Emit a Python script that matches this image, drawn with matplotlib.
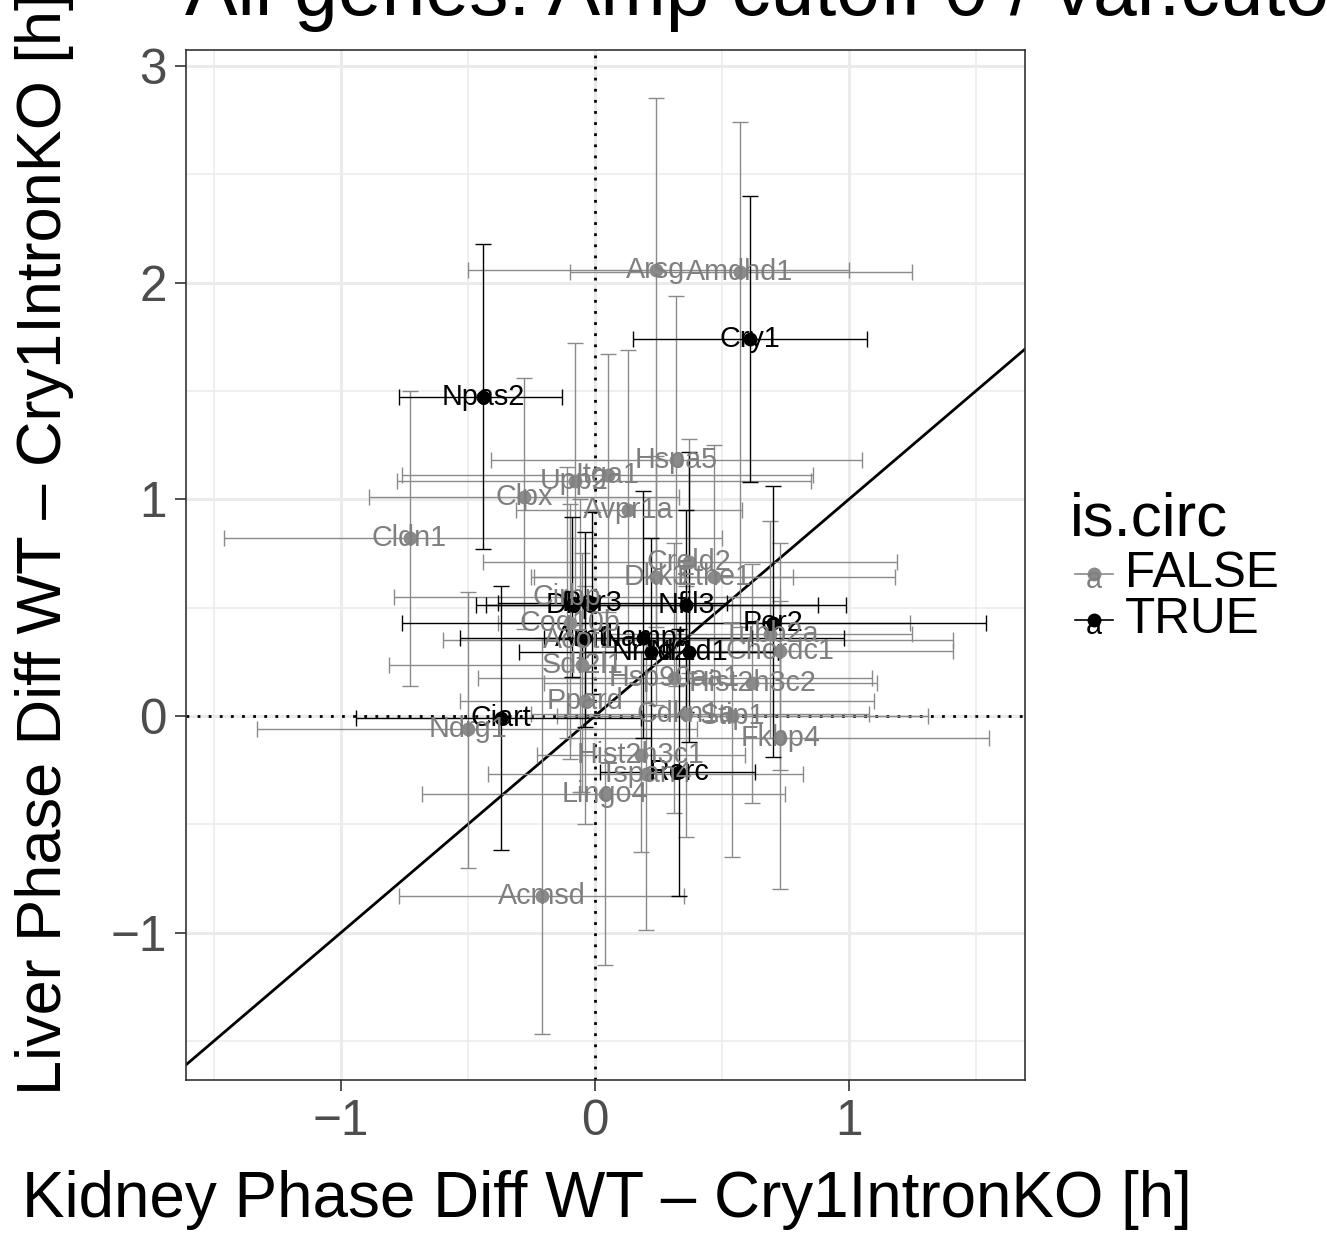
import numpy as np
import matplotlib
matplotlib.use("Agg")
import matplotlib.pyplot as plt
from matplotlib.lines import Line2D

plt.rcParams['font.family'] = ['Liberation Sans', 'DejaVu Sans']

# kidney / liver phase differences (h) with their confidence ranges
genes = ['Npas2', 'Cry1', 'Ciart', 'Per2', 'Rorc', 'Nfil3', 'Dbp', 'Per3',
         'Arntl', 'Nampt', 'Nr1d2', 'Nr1d1',
         'Arsg', 'Amdhd1', 'Hspa5', 'Itga1', 'Upp2', 'Clpx', 'Avpr1a', 'Cldn1',
         'Creld2', 'Dkk3', 'Ethe1', 'Cirbp', 'Coq10b', 'Acot1', 'Tubb2a',
         'Chordc1', 'Sdf2l1', 'Hsp90aa1', 'Hist2h3c2', 'Ppard', 'Cdkn1a',
         'Stip1', 'Fkbp4', 'Hist2h3c1', 'Tspan4', 'Lingo4', 'Acmsd', 'Ndrg1']
is_circ = [True] * 12 + [False] * 28
kidney = [-0.44, 0.61, -0.37, 0.70, 0.33, 0.36, -0.09, -0.01,
          -0.04, 0.19, 0.22, 0.37,
          0.24, 0.57, 0.32, 0.05, -0.08, -0.28, 0.13, -0.73,
          0.37, 0.24, 0.47, -0.11, -0.10, -0.06, 0.69,
          0.73, -0.05, 0.31, 0.62, -0.04, 0.36,
          0.54, 0.73, 0.18, 0.20, 0.04, -0.21, -0.50]
liver = [1.47, 1.74, -0.01, 0.43, -0.26, 0.51, 0.51, 0.52,
         0.36, 0.36, 0.295, 0.295,
         2.06, 2.05, 1.18, 1.11, 1.085, 1.01, 0.95, 0.82,
         0.71, 0.64, 0.64, 0.55, 0.43, 0.35, 0.38,
         0.30, 0.235, 0.175, 0.15, 0.07, 0.01,
         0.00, -0.10, -0.18, -0.27, -0.36, -0.83, -0.06]
kidney_lo = [-0.77, 0.15, -0.94, -0.76, 0.02, -0.47, -0.43, -0.38,
             -0.53, -0.20, -0.30, -0.05,
             -0.50, -0.10, -0.41, -0.76, -0.78, -0.89, -0.31, -1.46,
             -0.44, -0.25, -0.24, -0.79, -0.38, -0.60, 0.05,
             0.20, -0.81, -0.46, -0.20, -0.53, -0.25,
             -0.15, -0.10, -0.23, -0.42, -0.68, -0.77, -1.33]
kidney_hi = [-0.13, 1.07, 0.18, 1.54, 0.63, 0.99, 0.88, 0.52,
             0.98, 0.62, 0.72, 0.72,
             1.00, 1.25, 1.05, 0.86, 0.85, 0.33, 0.58, 0.50,
             1.19, 0.78, 1.18, 0.73, 1.24, 1.41, 1.25,
             1.41, 0.73, 1.09, 1.11, 1.10, 1.08,
             1.31, 1.55, 0.59, 0.82, 0.75, 0.35, 0.40]
liver_lo = [0.77, 1.08, -0.62, -0.19, -0.83, 0.02, 0.18, 0.10,
            -0.05, -0.10, -0.25, -0.12,
            0.41, 0.41, 0.14, 0.48, 0.42, 0.40, 0.30, 0.14,
            0.20, 0.05, 0.00, -0.10, -0.20, -0.35, -0.10,
            -0.25, -0.35, -0.45, -0.40, -0.50, -0.56,
            -0.65, -0.80, -0.63, -0.99, -1.15, -1.47, -0.70]
liver_hi = [2.18, 2.40, 0.60, 1.06, 0.40, 0.95, 0.92, 0.94,
            0.85, 1.04, 0.82, 1.22,
            2.85, 2.74, 1.94, 1.67, 1.72, 1.56, 1.69, 1.50,
            1.28, 1.20, 1.25, 1.15, 0.98, 1.00, 0.90,
            0.80, 0.75, 0.80, 0.70, 0.60, 0.60,
            0.55, 0.53, 0.30, 0.35, 0.40, 0.36, 0.57]

title = 'All genes: Amp cutoff 0 / var.cutoff 0.5'
colors = {False: '#8a8a8a', True: 'black'}

W, H = 1327, 1236
fig = plt.figure(figsize=(W / 100, H / 100), dpi=100)
ax = fig.add_axes([186 / W, 1 - 1080 / H, (1025 - 186) / W, (1080 - 50) / H])

base = 44.6
kid = np.array(kidney)
liv = np.array(liver)
circ = np.array(is_circ)

for flag in [False, True]:
    m = circ == flag
    xe = [kid[m] - np.array(kidney_lo)[m], np.array(kidney_hi)[m] - kid[m]]
    ye = [liv[m] - np.array(liver_lo)[m], np.array(liver_hi)[m] - liv[m]]
    ax.errorbar(kid[m], liv[m], xerr=xe, yerr=ye, fmt='none',
                ecolor=colors[flag], elinewidth=1.0, capsize=6,
                capthick=1.0, zorder=3)
for flag in [False, True]:
    m = circ == flag
    ax.plot(kid[m], liv[m], 'o', color=colors[flag], markersize=10,
            markeredgewidth=0, zorder=4)
for g, x, y, c in zip(genes, kidney, liver, is_circ):
    ax.text(x, y, g, color=('#7f7f7f' if not c else 'black'), fontsize=20.7,
            ha='center', va='center', zorder=5)

ax.axline((0, 0), slope=1, color='black', lw=2, zorder=2)
ax.axhline(0, color='black', lw=2, ls=(0, (1, 3)), zorder=2)
ax.axvline(0, color='black', lw=2, ls=(0, (1, 3)), zorder=2)

ax.set_xlim(-1.61, 1.693)
ax.set_ylim(-1.68, 3.073)
ax.set_xticks([-1, 0, 1])
ax.set_yticks([-1, 0, 1, 2, 3])
ax.set_xticks([-1.5, -0.5, 0.5, 1.5], minor=True)
ax.set_yticks([-1.5, -0.5, 0.5, 1.5, 2.5], minor=True)
ax.grid(True, which='major', color='#ebebeb', lw=2.2, zorder=0)
ax.grid(True, which='minor', color='#ebebeb', lw=1.1, zorder=0)
ax.set_axisbelow(True)
ax.tick_params(which='major', length=8, width=1.2, color='#333333',
               labelsize=base * 0.8, labelcolor='#4d4d4d', pad=6)
ax.tick_params(which='minor', length=0)
for s in ax.spines.values():
    s.set_color('#333333')
    s.set_linewidth(1.2)

fig.text(607 / W, 1 - 1200 / H, 'Kidney Phase Diff WT – Cry1IntronKO [h]',
         fontsize=base * 1.03, ha='center', va='center')
fig.text(45 / W, 1 - 544 / H, 'Liver Phase Diff WT – Cry1IntronKO [h]',
         fontsize=base * 1.02, ha='center', va='center', rotation=90)
fig.text(185 / W, 1 - 15 / H, title, fontsize=base * 1.27, ha='left',
         va='baseline')

# legend
fig.text(1070 / W, 1 - 520 / H, 'is.circ', fontsize=base, ha='left',
         va='center')
for i, flag in enumerate([False, True]):
    py = 574 + i * 46
    fy = 1 - py / H
    fig.add_artist(Line2D([1075 / W, 1113 / W], [fy, fy], color=colors[flag],
                          lw=1.2, transform=fig.transFigure))
    fig.add_artist(Line2D([1094 / W], [fy], marker='o', markersize=10,
                          markeredgewidth=0, color=colors[flag],
                          transform=fig.transFigure))
    fig.text(1094 / W, 1 - (py + 6) / H, 'a', fontsize=20.7,
             color=('#7f7f7f' if not flag else 'black'), ha='center',
             va='center')
    fig.text(1125 / W, fy, str(flag).upper(), fontsize=base * 0.8,
             ha='left', va='center')

fig.savefig('out.png', dpi=100)
